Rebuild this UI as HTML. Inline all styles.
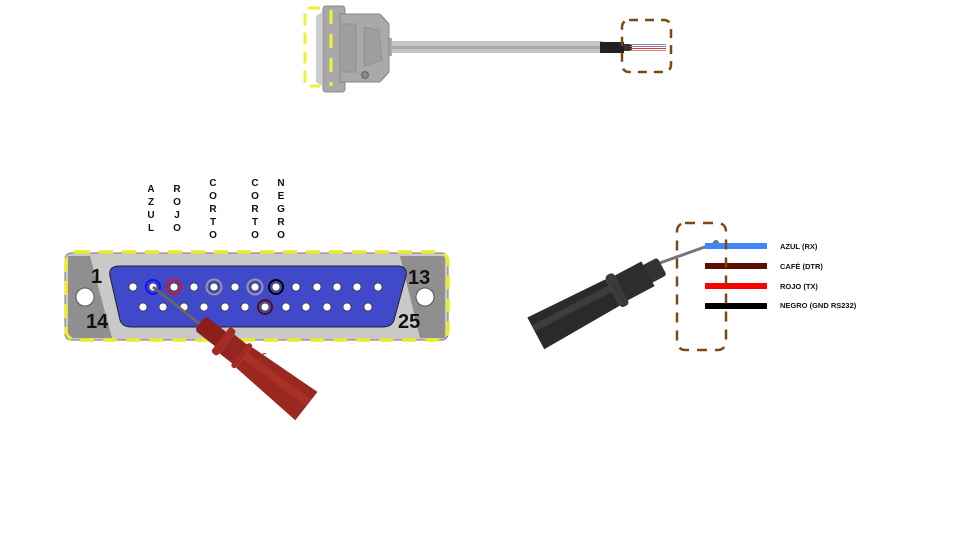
<!DOCTYPE html>
<html><head><meta charset="utf-8"><style>
html,body{margin:0;padding:0;background:#fff;}
svg{display:block;font-family:"Liberation Sans",Arial,sans-serif;}
</style></head><body>
<svg width="960" height="540" viewBox="0 0 960 540" xmlns="http://www.w3.org/2000/svg">
<!-- top cable -->
<rect x="388" y="41" width="215" height="12" fill="#c4c4c4"/>
<rect x="388" y="46" width="215" height="3" fill="#a9a9a9"/>
<rect x="600" y="42" width="24" height="11" fill="#222"/>
<rect x="624" y="44" width="8" height="7" fill="#333"/>
<line x1="630" y1="44.5" x2="666" y2="44.5" stroke="#6c8fe0" stroke-width="1"/>
<line x1="630" y1="46.5" x2="666" y2="46.5" stroke="#c66" stroke-width="1"/>
<line x1="630" y1="48.5" x2="666" y2="48.5" stroke="#d33" stroke-width="1"/>
<line x1="630" y1="50.5" x2="666" y2="50.5" stroke="#999" stroke-width="1"/>
<rect x="386" y="38" width="6" height="18" fill="#aaa"/>
<rect x="323" y="6" width="22" height="86" rx="3" fill="#a8a8a8" stroke="#888"/>
<path d="M340 14 L380 14 L389 24 L389 72 L380 82 L340 82 Z" fill="#a9a9a9" stroke="#888"/>
<rect x="340" y="24" width="16" height="48" fill="#9e9e9e" stroke="#888" stroke-width="0.7"/>
<path d="M364 27 L379 30 L382 60 L364 66 Z" fill="#9e9e9e" stroke="#888" stroke-width="0.7"/>
<circle cx="365" cy="75" r="3.5" fill="#888" stroke="#666"/>
<path d="M316 16 L322 12 L322 86 L316 82 Z" fill="#ccc"/>
<path d="M320 8 L308 8 Q305 8 305 12 L305 82 Q305 86 309 86 L320 86" fill="none" stroke="#f0f03a" stroke-width="3" stroke-dasharray="12,7"/>
<line x1="331" y1="10" x2="331" y2="86" stroke="#f0f03a" stroke-width="3" stroke-dasharray="14,10"/>
<rect x="622" y="20" width="49" height="52" rx="7" fill="none" stroke="#7a4a12" stroke-width="2.5" stroke-dasharray="9,7"/>

<!-- vertical labels -->
<g font-size="10" font-weight="bold" fill="#111" text-anchor="middle">
<text x="151" y="192">A</text><text x="151" y="205">Z</text><text x="151" y="218">U</text><text x="151" y="231">L</text>
<text x="177" y="192">R</text><text x="177" y="205">O</text><text x="177" y="218">J</text><text x="177" y="231">O</text>
<text x="213" y="186">C</text><text x="213" y="199">O</text><text x="213" y="212">R</text><text x="213" y="225">T</text><text x="213" y="238">O</text>
<text x="255" y="186">C</text><text x="255" y="199">O</text><text x="255" y="212">R</text><text x="255" y="225">T</text><text x="255" y="238">O</text>
<text x="281" y="186">N</text><text x="281" y="199">E</text><text x="281" y="212">G</text><text x="281" y="225">R</text><text x="281" y="238">O</text>
</g>

<!-- DB25 -->
<rect x="65" y="253" width="383" height="87" rx="6" fill="#c9c9c9" stroke="#777"/>
<path d="M68 256 L90 256 L112 338 L68 338 Z" fill="#8f8f8f"/>
<path d="M445 256 L400 256 L420 338 L445 338 Z" fill="#8f8f8f"/>
<circle cx="85" cy="297" r="9" fill="#fff" stroke="#555"/>
<circle cx="425" cy="297" r="9" fill="#fff" stroke="#555"/>
<path d="M120 266 L397 266 Q408 266 406 276 L394 320 Q392 327 382 327 L132 327 Q122 327 120 320 L110 276 Q108 266 120 266 Z" fill="#3f49c9" stroke="#222" stroke-width="1"/>
<g font-size="20" font-weight="bold" fill="#111">
<text x="91" y="283">1</text><text x="408" y="284">13</text>
<text x="86" y="328">14</text><text x="398" y="328">25</text>
</g>
<g fill="#fff" stroke="#333" stroke-width="0.7">
<circle cx="133" cy="287" r="4"/><circle cx="153" cy="287" r="4"/><circle cx="174" cy="287" r="4"/><circle cx="194" cy="287" r="4"/><circle cx="214" cy="287" r="4"/><circle cx="235" cy="287" r="4"/><circle cx="255" cy="287" r="4"/><circle cx="276" cy="287" r="4"/><circle cx="296" cy="287" r="4"/><circle cx="317" cy="287" r="4"/><circle cx="337" cy="287" r="4"/><circle cx="357" cy="287" r="4"/><circle cx="378" cy="287" r="4"/>
<circle cx="143" cy="307" r="4"/><circle cx="163" cy="307" r="4"/><circle cx="184" cy="307" r="4"/><circle cx="204" cy="307" r="4"/><circle cx="225" cy="307" r="4"/><circle cx="245" cy="307" r="4"/><circle cx="265" cy="307" r="4"/><circle cx="286" cy="307" r="4"/><circle cx="306" cy="307" r="4"/><circle cx="327" cy="307" r="4"/><circle cx="347" cy="307" r="4"/><circle cx="368" cy="307" r="4"/>
</g>
<g fill="none" stroke-width="2">
<circle cx="153" cy="287" r="7" stroke="#1010ff"/>
<circle cx="174" cy="287" r="7" stroke="#e01010"/>
<circle cx="214" cy="287" r="7.5" stroke="#999"/>
<circle cx="255" cy="287" r="7.5" stroke="#999"/>
<circle cx="276" cy="287" r="7" stroke="#000"/>
<circle cx="265" cy="307" r="7" stroke="#5a1010"/>
</g>
<rect x="66" y="252" width="382" height="88" rx="10" fill="none" stroke="#eaea30" stroke-width="3.5" stroke-dasharray="14,9"/>
<text x="262" y="358" font-size="9" fill="#111">c</text>

<!-- red probe -->
<line x1="153" y1="287" x2="205" y2="328" stroke="#666" stroke-width="3"/>
<g transform="translate(200,323) rotate(38)">
<rect x="0" y="-9" width="30" height="18" rx="4" fill="#8c1f1a"/>
<rect x="26" y="-16" width="8" height="32" rx="3" fill="#a52a22"/>
<rect x="34" y="-12" width="20" height="24" fill="#952520"/>
<rect x="50" y="-15" width="6" height="30" rx="3" fill="#a52a22"/>
<path d="M56 -13 L135 -18 L135 18 L56 13 Z" fill="#9a2820"/>
<path d="M56 -6 L135 -8 L135 0 L56 2 Z" fill="#b8362c" opacity="0.6"/>
</g>

<!-- black probe -->
<line x1="640" y1="270" x2="716" y2="243" stroke="#777" stroke-width="3"/>
<circle cx="716" cy="243" r="3" fill="#777"/>
<g transform="translate(655,270) rotate(-28)">
<rect x="-10" y="-10" width="18" height="20" rx="3" fill="#333"/>
<rect x="-40" y="-14" width="32" height="28" fill="#2d2d2d"/>
<rect x="-48" y="-18" width="10" height="36" rx="4" fill="#3a3a3a"/>
<path d="M-48 -15 L-135 -18 L-135 18 L-48 15 Z" fill="#2a2a2a"/>
<path d="M-48 -8 L-135 -9 L-135 -2 L-48 -1 Z" fill="#444" opacity="0.7"/>
</g>

<!-- wires -->
<rect x="705" y="243" width="62" height="6" fill="#4285f4"/>
<rect x="705" y="263" width="62" height="6" fill="#5a1000"/>
<rect x="705" y="283" width="62" height="6" fill="#ff0000"/>
<rect x="705" y="303" width="62" height="6" fill="#000"/>
<g font-size="7.5" font-weight="bold" fill="#111">
<text x="780" y="249">AZUL (RX)</text>
<text x="780" y="269">CAFÉ (DTR)</text>
<text x="780" y="289">ROJO (TX)</text>
<text x="780" y="308">NEGRO (GND RS232)</text>
</g>
<rect x="677" y="223" width="49" height="127" rx="8" fill="none" stroke="#7a4a12" stroke-width="2.5" stroke-dasharray="10,8"/>
</svg>
</body></html>
